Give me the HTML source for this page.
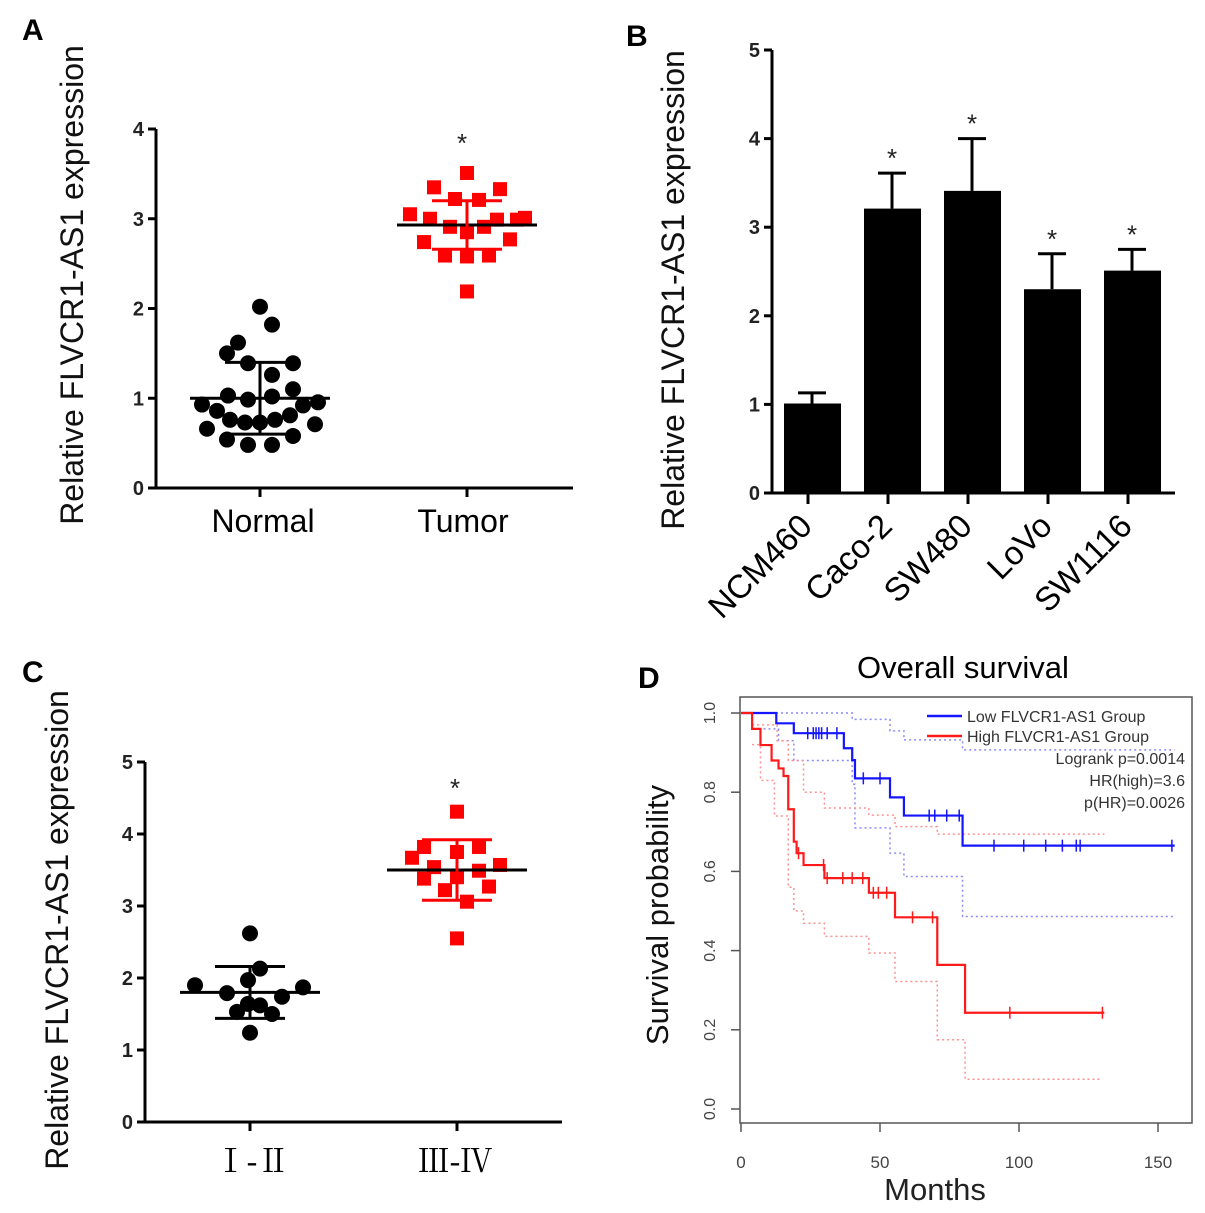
<!DOCTYPE html>
<html><head><meta charset="utf-8"><style>
body{margin:0;background:#fff}
svg{display:block;font-family:"Liberation Sans",Arial,sans-serif}
</style></head><body>
<svg id="fig" width="1205" height="1213" viewBox="0 0 1205 1213" xmlns="http://www.w3.org/2000/svg">
<g id="pA"></g>
<g id="pB"></g>
<g id="pC"></g>
<g id="pD"></g>
</svg>
<script>
// ---- Panel A data ----
const aNormalOffsets=[0,12,-22,-33,-12,33,12,33,-32,-12,12,-58,43,58,-43,-30,-15,0,15,30,55,-53,-33,33,-12,12];
const aNormalValues=[2.02,1.82,1.62,1.50,1.39,1.39,1.26,1.10,1.03,0.985,1.02,0.93,0.92,0.955,0.86,0.76,0.73,0.73,0.76,0.81,0.71,0.66,0.54,0.58,0.48,0.48];
const aTumorOffsets=[0,-33,33,-12,12,-57,58,0,-43,43,-22,22,0,0,30,-17,17,50,-37];
const aTumorValues=[3.51,3.35,3.33,3.22,3.21,3.05,3.01,2.85,2.74,2.77,2.59,2.59,2.58,2.19,2.99,2.91,2.91,2.99,3.0];
const aStats={normalMean:1.0,normalSD:0.4,tumorMean:2.93,tumorSD:0.27};
const aTicks=[0,1,2,3,4];
// ---- Panel B data ----
const bCategories=["NCM460","Caco-2","SW480","LoVo","SW1116"];
const bValues=[1.01,3.21,3.41,2.30,2.51];
const bErrors=[0.12,0.40,0.59,0.40,0.24];
const bStars=[false,true,true,true,true];
const bTicks=[0,1,2,3,4,5];
// ---- Panel C data ----
const cLowOffsets=[0,10,-2,-55,53,-23,32,-2,10,-13,22,0];
const cLowValues=[2.62,2.13,1.97,1.90,1.87,1.79,1.74,1.64,1.62,1.53,1.50,1.24];
const cHighOffsets=[0,-33,22,0,-45,-23,43,22,0,-33,32,-12,10,0];
const cHighValues=[4.31,3.82,3.82,3.75,3.67,3.54,3.57,3.49,3.40,3.38,3.27,3.22,3.06,2.55];
const cStats={lowMean:1.80,lowSD:0.36,highMean:3.50,highSD:0.42};
const cTicks=[0,1,2,3,4,5];
// ---- Panel D data ----
const dLowT=[0,12.7,19,37,40,41,53.6,58.6,79.7,156];
const dLowS=[1.0,0.974,0.949,0.911,0.881,0.835,0.787,0.741,0.665,0.665];
const dHighT=[0,4,7,11,13.5,15.3,17,19,20,22.5,30,46,55.4,70.6,80.6,130.7];
const dHighS=[1.0,0.96,0.919,0.88,0.86,0.841,0.757,0.675,0.646,0.616,0.583,0.546,0.484,0.364,0.243,0.243];
const dLowUpT=[0,40,53.6,58.6,79.7,156];
const dLowUpS=[1.0,0.984,0.955,0.932,0.907,0.907];
const dLowLoT=[4.5,13.5,19,37,40,41,53.6,58.6,79.7,156];
const dLowLoS=[0.96,0.93,0.88,0.88,0.82,0.71,0.646,0.587,0.486,0.486];
const dHighUpT=[4,13,17,22.5,30,46,55.4,70.6,130.7];
const dHighUpS=[0.97,0.93,0.88,0.80,0.76,0.742,0.713,0.694,0.694];
const dHighLoT=[4,7,12,17,19,22.5,30,46,55.4,70.6,80.6,129];
const dHighLoS=[0.92,0.83,0.74,0.56,0.50,0.469,0.436,0.394,0.322,0.175,0.075,0.075];
const dLowCens=[24,26,27,28,29,31,34.5,44,50,67.7,69.7,74,78.5,91,101.7,109.6,115.6,120.6,122,155];
const dHighCens=[20.7,29.7,31,36.6,40,43.8,47.6,49.4,52.4,61.7,68.9,96.7,130];
const dYTicks=[0,0.2,0.4,0.6,0.8,1.0];
const dXTicks=[0,50,100,150];

const NS="http://www.w3.org/2000/svg";
function mk(parent,tag,attrs,text){const e=document.createElementNS(NS,tag);for(const k in attrs)e.setAttribute(k,attrs[k]);if(text!==undefined)e.textContent=text;parent.appendChild(e);return e;}

function axisY(g,x,yOf,ticks,x2,fmt,name){
  let ax=mk(g,'line',{x1:x,y1:yOf(ticks[ticks.length-1]),x2:x,y2:yOf(0),stroke:'#000','stroke-width':3});
  
  let bx=mk(g,'line',{x1:x-8,y1:yOf(0),x2:x2,y2:yOf(0),stroke:'#000','stroke-width':3});
  
  ticks.forEach(t=>{
    let tl=mk(g,'line',{x1:x-8,y1:yOf(t),x2:x,y2:yOf(t),stroke:'#000','stroke-width':3});
    
    let tx=mk(g,'text',{x:x-12,y:yOf(t)+7,'text-anchor':'end','font-size':20,'font-weight':'bold',fill:'#222'},String(t));
    
  });
}
function ytitle(g,x,y,size,txt,name){
  let t=mk(g,'text',{x:0,y:0,transform:`translate(${x},${y}) rotate(-90)`,'text-anchor':'middle','font-size':size,fill:'#111'},txt);
  
}
function letter(g,x,y,l){let t=mk(g,'text',{x:x,y:y,'font-size':30,'font-weight':'bold'},l);
  }
function star(g,x,y){let t=mk(g,'text',{x:x,y:y,'text-anchor':'middle','font-size':26,fill:'#222'},'*');
  }
function meanSD(g,cx,yOf,mean,sd,color){
  const w=3;
  let a=mk(g,'line',{x1:cx-70,x2:cx+70,y1:yOf(mean),y2:yOf(mean),stroke:'#000','stroke-width':w});
  
  let b=mk(g,'line',{x1:cx,x2:cx,y1:yOf(mean+sd),y2:yOf(mean-sd),stroke:color,'stroke-width':w});
  
  [mean+sd,mean-sd].forEach(v=>{let c=mk(g,'line',{x1:cx-35,x2:cx+35,y1:yOf(v),y2:yOf(v),stroke:color,'stroke-width':w});
    });
}
function dots(g,cx,yOf,offs,vals,r){offs.forEach((o,i)=>{let c=mk(g,'circle',{cx:cx+o,cy:yOf(vals[i]),r:r,fill:'#000'});
  });}
function squares(g,cx,yOf,offs,vals,s){offs.forEach((o,i)=>{let c=mk(g,'rect',{x:cx+o-s/2,y:yOf(vals[i])-s/2,width:s,height:s,fill:'#f00'});
  });}

// ---- Panel A ----
(function(){
  const g=document.getElementById('pA');
  const yOf=v=>488-v*89.75;
  letter(g,22,40,'A');
  axisY(g,156,yOf,aTicks,573,null,'a');
  [260,467].forEach(x=>{let t=mk(g,'line',{x1:x,x2:x,y1:488,y2:497,stroke:'#000','stroke-width':3});});
  dots(g,260,yOf,aNormalOffsets,aNormalValues,8);
  squares(g,467,yOf,aTumorOffsets,aTumorValues,14);
  meanSD(g,260,yOf,aStats.normalMean,aStats.normalSD,'#000');
  meanSD(g,467,yOf,aStats.tumorMean,aStats.tumorSD,'#f00');
  star(g,462,152);
  let n=mk(g,'text',{x:263,y:532,'text-anchor':'middle','font-size':32},'Normal');
  let tt=mk(g,'text',{x:463,y:532,'text-anchor':'middle','font-size':32},'Tumor');
  ytitle(g,83,285,32,'Relative FLVCR1-AS1 expression','a-y-axis-title');
})();

// ---- Panel B ----
(function(){
  const g=document.getElementById('pB');
  const yOf=v=>493-v*88.6;
  letter(g,626,46,'B');
  axisY(g,772,yOf,bTicks,1175,null,'b');
  bCategories.forEach((c,i)=>{
    const cx=812+i*80;
    let r=mk(g,'rect',{x:cx-28,y:yOf(bValues[i]),width:57,height:yOf(0)-yOf(bValues[i]),fill:'#000'});
    
    const top=yOf(bValues[i]+bErrors[i]);
    let e=mk(g,'line',{x1:cx,x2:cx,y1:yOf(bValues[i]),y2:top,stroke:'#000','stroke-width':3});
    
    let cp=mk(g,'line',{x1:cx-14,x2:cx+14,y1:top,y2:top,stroke:'#000','stroke-width':3});
    
    if(bStars[i])star(g,cx,top-6);
    let tk=mk(g,'line',{x1:cx-4,x2:cx-4,y1:493,y2:504,stroke:'#000','stroke-width':3});
    
    let t=mk(g,'text',{x:0,y:0,transform:`translate(${cx+2},${528}) rotate(-45)`,'text-anchor':'end','font-size':33},c);
    
  });
  ytitle(g,684,290,32,'Relative FLVCR1-AS1 expression','b-y-axis-title');
})();

// ---- Panel C ----
(function(){
  const g=document.getElementById('pC');
  const yOf=v=>1122-v*72;
  letter(g,22,682,'C');
  axisY(g,145,yOf,cTicks,562,null,'c');
  [250,457].forEach(x=>{let t=mk(g,'line',{x1:x,x2:x,y1:1122,y2:1131,stroke:'#000','stroke-width':3});});
  dots(g,250,yOf,cLowOffsets,cLowValues,8);
  squares(g,457,yOf,cHighOffsets,cHighValues,14);
  meanSD(g,250,yOf,cStats.lowMean,cStats.lowSD,'#000');
  meanSD(g,457,yOf,cStats.highMean,cStats.highSD,'#f00');
  star(g,455,797);
  let a=mk(g,'text',{x:252,y:1172,'text-anchor':'middle','font-size':32,'font-family':'"Liberation Serif","Noto Serif CJK SC",serif'},'Ⅰ-Ⅱ');
  let b=mk(g,'text',{x:455,y:1172,'text-anchor':'middle','font-size':32,'font-family':'"Liberation Serif","Noto Serif CJK SC",serif'},'Ⅲ-Ⅳ');
  ytitle(g,68,930,32,'Relative FLVCR1-AS1 expression','c-y-axis-title');
})();

// ---- Panel D ----
(function(){
  const g=document.getElementById('pD');
  const xOf=m=>741+m*2.78, yOf=s=>1109-s*396;
  letter(g,638,688,'D');
  let ti=mk(g,'text',{x:963,y:678,'text-anchor':'middle','font-size':31},'Overall survival');
  let box=mk(g,'rect',{x:740,y:697,width:452,height:426,fill:'none',stroke:'#555','stroke-width':1.5});
  dYTicks.forEach(t=>{
    let l=mk(g,'line',{x1:731,x2:740,y1:yOf(t),y2:yOf(t),stroke:'#555','stroke-width':1.5});
    let tx=mk(g,'text',{x:0,y:0,transform:`translate(${715},${yOf(t)}) rotate(-90)`,'text-anchor':'middle','font-size':16,fill:'#444'},t.toFixed(1));
  });
  dXTicks.forEach(t=>{
    let l=mk(g,'line',{x1:xOf(t),x2:xOf(t),y1:1123,y2:1132,stroke:'#555','stroke-width':1.5});
    let tx=mk(g,'text',{x:xOf(t),y:1168,'text-anchor':'middle','font-size':17,fill:'#444'},String(t));
  });
  function step(T,S){let d=`M${xOf(T[0])},${yOf(S[0])}`;for(let i=1;i<T.length;i++){d+=`H${xOf(T[i])}V${yOf(S[i])}`;}return d;}
  function pathEl(T,S,col,w,dash,name){let p=mk(g,'path',{d:step(T,S),fill:'none',stroke:col,'stroke-width':w});if(dash)p.setAttribute('stroke-dasharray',dash);
    }
  pathEl(dLowUpT,dLowUpS,'#8a8aff',1.5,'2,3','low-ci-upper');
  pathEl(dLowLoT,dLowLoS,'#8a8aff',1.5,'2,3','low-ci-lower');
  pathEl(dHighUpT,dHighUpS,'#ff9090',1.5,'2,3','high-ci-upper');
  pathEl(dHighLoT,dHighLoS,'#ff9090',1.5,'2,3','high-ci-lower');
  pathEl(dLowT,dLowS,'#1515ff',2.2,null,'low-group-curve');
  pathEl(dHighT,dHighS,'#ff1a1a',2.2,null,'high-group-curve');
  function survAt(T,S,m){let s=S[0];for(let i=0;i<T.length;i++){if(T[i]<=m)s=S[i];}return s;}
  dLowCens.forEach(m=>{const y=yOf(survAt(dLowT,dLowS,m));let l=mk(g,'line',{x1:xOf(m),x2:xOf(m),y1:y-6,y2:y+6,stroke:'#1515ff','stroke-width':1.5});});
  dHighCens.forEach(m=>{const y=yOf(survAt(dHighT,dHighS,m));let l=mk(g,'line',{x1:xOf(m),x2:xOf(m),y1:y-6,y2:y+6,stroke:'#ff1a1a','stroke-width':1.5});});
  let l1=mk(g,'line',{x1:927,x2:962,y1:716,y2:716,stroke:'#1515ff','stroke-width':2.5});
  let l2=mk(g,'line',{x1:927,x2:962,y1:736,y2:736,stroke:'#ff1a1a','stroke-width':2.5});
  let t1=mk(g,'text',{x:967,y:722,'font-size':16,fill:'#333'},'Low FLVCR1-AS1 Group');
  let t2=mk(g,'text',{x:967,y:742,'font-size':16,fill:'#333'},'High FLVCR1-AS1 Group');
  [['Logrank p=0.0014',764,'logrank-p'],['HR(high)=3.6',786,'hazard-ratio'],['p(HR)=0.0026',808,'hr-p-value']].forEach(a=>{
    let t=mk(g,'text',{x:1185,y:a[1],'text-anchor':'end','font-size':16,fill:'#333'},a[0]);});
  let xt=mk(g,'text',{x:935,y:1200,'text-anchor':'middle','font-size':31,fill:'#222'},'Months');
  ytitle(g,668,915,31,'Survival probability','d-y-axis-title');
})();
</script>
</body></html>
